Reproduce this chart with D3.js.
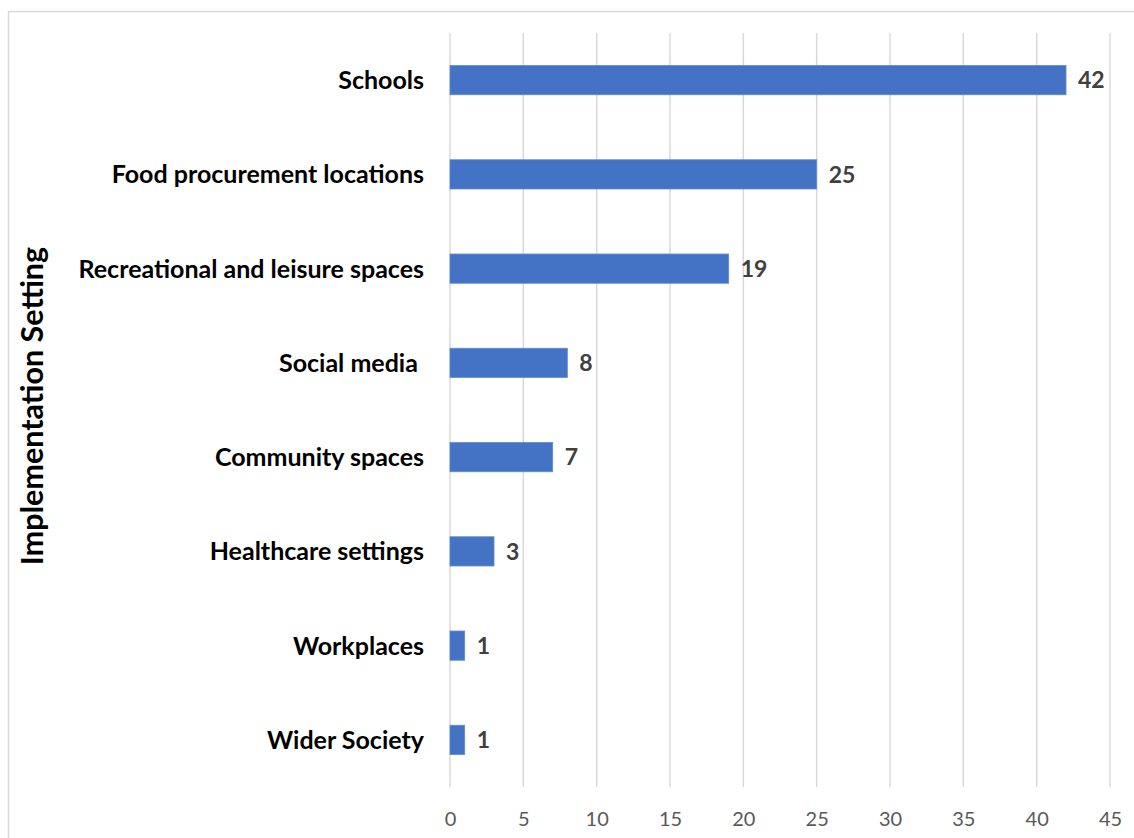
<!DOCTYPE html>
<html>
<head>
<meta charset="utf-8">
<script src="https://cdnjs.cloudflare.com/ajax/libs/d3/7.8.5/d3.min.js"></script>
<style>
  body { margin: 0; background: #fff; }
  text { font-family: Lato, "Open Sans", sans-serif; }
</style>
</head>
<body>
<script>
var categories = ["Schools", "Food procurement locations", "Recreational and leisure spaces",
    "Social media ", "Community spaces", "Healthcare settings", "Workplaces", "Wider Society"];
var counts = [42, 25, 19, 8, 7, 3, 1, 1];
var xTicks = [0, 5, 10, 15, 20, 25, 30, 35, 40, 45];
var axisTitle = "Implementation Setting";

(function() {
    var width = 1134, height = 838;
    var margin = {top: 33, right: 24, bottom: 51, left: 450};
    var chartWidth = width - margin.left - margin.right;
    var chartHeight = height - margin.top - margin.bottom;

    var svg = d3.select("body")
        .append("svg")
        .attr("width", width)
        .attr("height", height);

    // outer frame
    svg.append("rect")
        .attr("x", 8.5)
        .attr("y", 11.5)
        .attr("width", width + 20)
        .attr("height", height + 20)
        .attr("fill", "none")
        .attr("stroke", "#d9d9d9")
        .attr("stroke-width", 1.5);

    var chartG = svg.append("g")
        .attr("transform", `translate(${margin.left},${margin.top})`);

    var xScale = d3.scaleLinear()
        .domain([0, 45])
        .range([0, chartWidth]);

    var yScale = d3.scaleBand()
        .domain(categories)
        .range([0, chartHeight])
        .paddingInner(0.69)
        .paddingOuter(0.345);

    // gridlines
    chartG.selectAll(".grid")
        .data(xTicks)
        .enter()
        .append("line")
        .attr("class", "grid")
        .attr("x1", d => xScale(d))
        .attr("x2", d => xScale(d))
        .attr("y1", 0)
        .attr("y2", chartHeight)
        .attr("stroke", "#d9d9d9")
        .attr("stroke-width", 1.5);

    var xAxis = d3.axisBottom(xScale).tickValues(xTicks).tickSize(0).tickPadding(25);
    var xAxisG = chartG.append("g")
        .attr("transform", `translate(0,${chartHeight})`)
        .call(xAxis);
    xAxisG.select(".domain").remove();
    xAxisG.selectAll("text")
        .attr("fill", "#595959")
        .style("font-size", "20px")
        .style("font-family", "Lato, sans-serif");

    var bars = categories.map((c, i) => ({name: c, value: counts[i]}));

    chartG.selectAll(".bar")
        .data(bars)
        .enter()
        .append("rect")
        .attr("class", "bar")
        .attr("x", 0)
        .attr("y", d => yScale(d.name))
        .attr("width", d => xScale(d.value))
        .attr("height", yScale.bandwidth())
        .attr("fill", "#4472c4")
        .attr("stroke", "#5b8ad6")
        .attr("stroke-width", 0.8);

    chartG.selectAll(".value-label")
        .data(bars)
        .enter()
        .append("text")
        .attr("class", "value-label")
        .attr("x", d => xScale(d.value) + 12)
        .attr("y", d => yScale(d.name) + yScale.bandwidth() / 2)
        .attr("dy", "0.36em")
        .attr("fill", "#404040")
        .style("font-size", "23px")
        .style("font-weight", "bold")
        .text(d => d.value);

    chartG.selectAll(".cat-label")
        .data(bars)
        .enter()
        .append("text")
        .attr("class", "cat-label")
        .attr("x", -26)
        .attr("y", d => yScale(d.name) + yScale.bandwidth() / 2)
        .attr("dy", "0.36em")
        .attr("text-anchor", "end")
        .attr("fill", "#000")
        .style("font-size", "25px")
        .style("font-weight", "bold")
        .style("white-space", "pre")
        .text(d => d.name);

    svg.append("text")
        .attr("text-anchor", "middle")
        .attr("transform", `translate(43,406) rotate(-90)`)
        .attr("fill", "#000")
        .style("font-size", "30.5px")
        .style("font-weight", "bold")
        .text(axisTitle);
})();
</script>
</body>
</html>
